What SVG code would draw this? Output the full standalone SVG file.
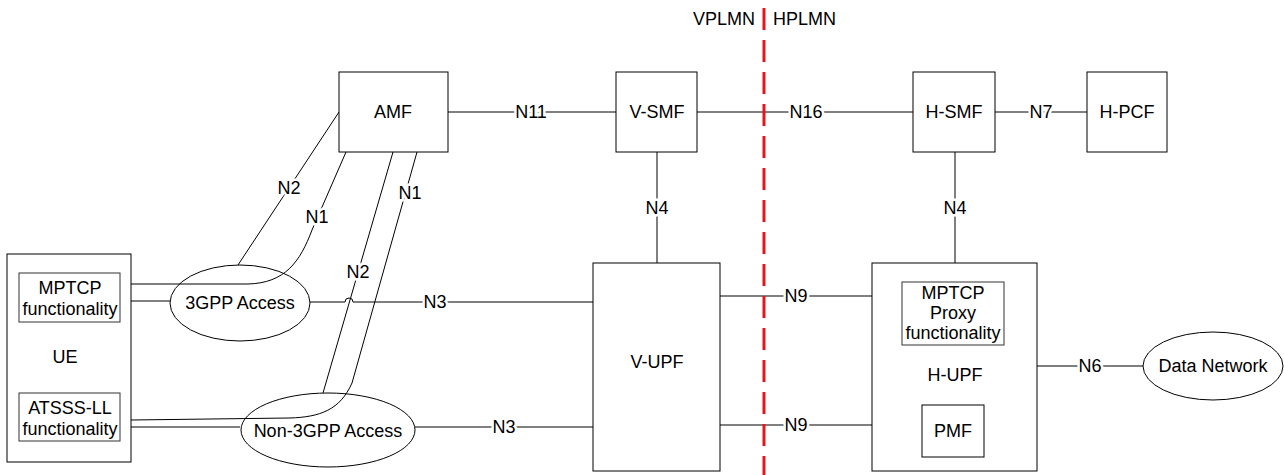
<svg xmlns="http://www.w3.org/2000/svg" width="1284" height="475" viewBox="0 0 1284 475">
<style>
.box{fill:#fff;stroke:#000;stroke-width:1}
.ell{fill:none;stroke:#000;stroke-width:1}
.inner{fill:#fff;stroke:#333;stroke-width:1}
.ln{fill:none;stroke:#000;stroke-width:1}
.t{font-family:"Liberation Sans",Arial,sans-serif;font-size:18px;fill:#000;text-anchor:middle}
.lbl{font-family:"Liberation Sans",Arial,sans-serif;font-size:18px;fill:#000;text-anchor:middle;paint-order:stroke;stroke:#fff;stroke-width:5px}
</style>
<rect width="1284" height="475" fill="#fff"/>
<g id="connectors">
  <path class="ln" d="M131,301 L170,301"/>
  <path class="ln" d="M131,284 L248,284 C285,283 300,262 312,230 L346,152"/>
  <path class="ln" d="M238,265 L339,112"/>
  <path class="ln" d="M393,152 L323,393"/>
  <path class="ln" d="M417,152 L352,383 C340,410 320,417 290,418 L131,420"/>
  <path class="ln" d="M131,427 L240,427"/>
  <path class="ln" d="M310,302 L345,302 A4,4 0 0 1 353,302 L593,302"/>
  <path class="ln" d="M415,427 L593,427"/>
  <path class="ln" d="M448,112 L616,112"/>
  <path class="ln" d="M697,112 L913,112"/>
  <path class="ln" d="M995,112 L1087,112"/>
  <path class="ln" d="M657,152 L657,263"/>
  <path class="ln" d="M955,152 L955,263"/>
  <path class="ln" d="M720,296 L872,296"/>
  <path class="ln" d="M720,425 L872,425"/>
  <path class="ln" d="M1037,366 L1143,366"/>
  <text class="lbl" x="289" y="194">N2</text>
  <text class="lbl" x="317" y="223">N1</text>
  <text class="lbl" x="358" y="278">N2</text>
  <text class="lbl" x="410" y="199">N1</text>
  <text class="lbl" x="435" y="308">N3</text>
  <text class="lbl" x="504" y="433">N3</text>
  <text class="lbl" x="531" y="118">N11</text>
  <text class="lbl" x="806" y="118">N16</text>
  <text class="lbl" x="1041" y="118">N7</text>
  <text class="lbl" x="657" y="214">N4</text>
  <text class="lbl" x="955" y="214">N4</text>
  <text class="lbl" x="796" y="302">N9</text>
  <text class="lbl" x="796" y="431">N9</text>
  <text class="lbl" x="1090" y="372">N6</text>
</g>
<g id="boundary">
  <line x1="764" y1="8" x2="764" y2="475" stroke="#e8141c" stroke-width="3" stroke-dasharray="22,10"/>
  <text class="t" x="755" y="25" style="text-anchor:end">VPLMN</text>
  <text class="t" x="773" y="25" style="text-anchor:start">HPLMN</text>
</g>
<g id="UE">
  <rect class="box" x="7" y="254" width="124" height="208"/>
  <text class="t" x="65" y="363">UE</text>
</g>
<g id="UE-MPTCP">
  <rect class="inner" x="19" y="273" width="101" height="49"/>
  <text class="t" x="70" y="294">MPTCP</text>
  <text class="t" x="70" y="315">functionality</text>
</g>
<g id="UE-ATSSS">
  <rect class="inner" x="19" y="393" width="101" height="48"/>
  <text class="t" x="70" y="414">ATSSS-LL</text>
  <text class="t" x="70" y="435">functionality</text>
</g>
<g id="3GPP-Access">
  <ellipse class="ell" cx="240" cy="303" rx="70" ry="38"/>
  <text class="t" x="240" y="309">3GPP Access</text>
</g>
<g id="Non-3GPP-Access">
  <ellipse class="ell" cx="328" cy="430" rx="87" ry="37"/>
  <text class="t" x="328" y="437">Non-3GPP Access</text>
</g>
<g id="AMF">
  <rect class="box" x="339" y="72" width="109" height="80"/>
  <text class="t" x="393" y="118">AMF</text>
</g>
<g id="V-SMF">
  <rect class="box" x="616" y="72" width="81" height="80"/>
  <text class="t" x="657" y="118">V-SMF</text>
</g>
<g id="H-SMF">
  <rect class="box" x="913" y="72" width="82" height="80"/>
  <text class="t" x="954" y="118">H-SMF</text>
</g>
<g id="H-PCF">
  <rect class="box" x="1087" y="72" width="80" height="80"/>
  <text class="t" x="1127" y="118">H-PCF</text>
</g>
<g id="V-UPF">
  <rect class="box" x="593" y="263" width="127" height="208"/>
  <text class="t" x="657" y="368">V-UPF</text>
</g>
<g id="H-UPF">
  <rect class="box" x="872" y="263" width="165" height="208"/>
  <text class="t" x="955" y="381">H-UPF</text>
</g>
<g id="H-UPF-MPTCP-Proxy">
  <rect class="inner" x="902" y="282" width="102" height="63"/>
  <text class="t" x="953" y="299">MPTCP</text>
  <text class="t" x="953" y="319">Proxy</text>
  <text class="t" x="953" y="339">functionality</text>
</g>
<g id="PMF">
  <rect class="box" x="922" y="405" width="62" height="52"/>
  <text class="t" x="953" y="437">PMF</text>
</g>
<g id="Data-Network">
  <ellipse class="box" cx="1213" cy="366" rx="70" ry="34"/>
  <text class="t" x="1213" y="372">Data Network</text>
</g>
</svg>
